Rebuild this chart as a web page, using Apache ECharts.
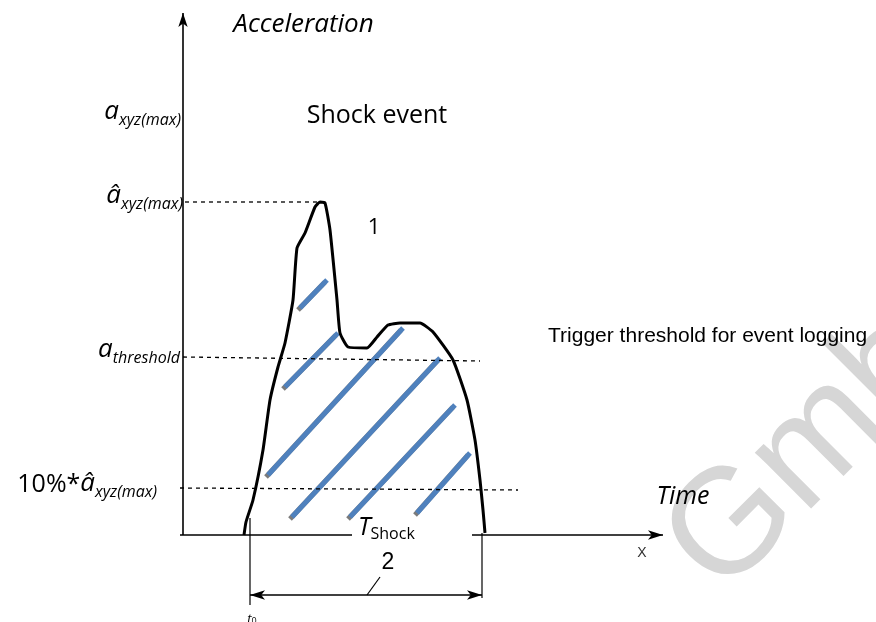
<!DOCTYPE html>
<html>
<head>
<meta charset="utf-8">
<script src="https://cdn.jsdelivr.net/npm/echarts@6/dist/echarts.min.js"></script>
<style>html,body{margin:0;padding:0;background:#fff;}#c{width:876px;height:622px;}</style>
</head>
<body>
<div id="c"></div>
<script>
// ---- data (time units, acceleration units) ----
const curveTime  = [6.1, 6.3, 7.0, 8.0, 8.7, 9.5, 10.2, 11.0, 11.4, 12.2, 13.2, 13.7, 14.2, 14.7, 15.4, 15.7, 16.5, 18.4, 19.4, 20.5, 21.7, 23.7, 25.0, 27.0, 28.4, 29.2, 29.7, 30.0, 30.2];
const curveAccel = [0.0, 1.3, 3.5, 8.5, 13.5, 16.8, 19.2, 23.5, 28.7, 30.2, 32.8, 33.3, 33.2, 30.5, 23.5, 20.2, 18.8, 18.7, 19.8, 21.0, 21.2, 21.2, 20.3, 17.5, 13.5, 9.5, 5.5, 2.5, 0.2];

const peakLine      = [[0.2, 33.3], [13.7, 33.3]];
const thresholdLine = [[0.0, 17.8], [29.7, 17.4]];
const tenPctLine    = [[-0.3, 4.7], [33.5, 4.5]];

const hatchStart = [[11.7, 22.7], [10.2, 14.8], [8.5, 6.0], [10.9, 1.8], [16.7, 1.8], [23.4, 2.2]];
const hatchEnd   = [[14.4, 25.5], [15.5, 20.2], [22.0, 20.7], [25.7, 17.7], [27.2, 13.0], [28.7, 8.2]];

const yAxisLine   = [[0, 0], [0, 52.2]];
const xAxisLeft   = [[-0.3, 0], [16.9, 0]];
const xAxisRight  = [[28.9, 0], [48.0, 0]];
const t0Line      = [[6.7, 1.7], [6.7, -7.0]];
const tEndLine    = [[29.9, 0.2], [29.9, -6.3]];
const durationArrow = [[6.7, -6.0], [29.9, -6.0]];
const leader2     = [[18.4, -6.0], [19.7, -4.2]];

const labelTexts = ['Acceleration', 'Shock event', '1', 'Trigger threshold for event logging', 'Time', 'X', '2'];

// ---- chart ----
const chart = echarts.init(document.getElementById('c'), null, {renderer: 'canvas'});
const black = '#000';
const italicFont = "'Open Sans', 'DejaVu Sans', sans-serif";
const arialFont = "'Liberation Sans', Arial, sans-serif";

function seg(name, pts, style) {
  return {type: 'line', name: name, data: pts, symbol: 'none', silent: true, animation: false,
          lineStyle: Object.assign({color: black, width: 1.5}, style), z: 3};
}
function arrowLine(name, pts, symbols, width, size) {
  return {type: 'line', name: name, data: [], symbol: 'none', silent: true, animation: false,
    markLine: {silent: true, animation: false, symbol: symbols, symbolSize: size,
      label: {show: false}, lineStyle: {type: 'solid', color: black, width: width},
      data: [[{coord: pts[0]}, {coord: pts[1]}]]}};
}
function textPoint(pos, position, text, rich, extra) {
  return {value: pos, symbolSize: 0.1, itemStyle: {color: 'rgba(0,0,0,0)', opacity: 1},
    label: Object.assign({show: true, position: position, distance: 0, formatter: text, rich: rich, color: black, opacity: 1}, extra || {})};
}

const subRich = {
  a: {fontFamily: italicFont, fontStyle: 'italic', fontSize: 26, color: black, verticalAlign: 'bottom', lineHeight: 34, padding: [0, 0, 3, 0]},
  s: {fontFamily: italicFont, fontStyle: 'italic', fontSize: 16, color: black, verticalAlign: 'bottom', lineHeight: 34},
  n: {fontFamily: italicFont, fontSize: 25, color: black, verticalAlign: 'bottom', lineHeight: 34, padding: [0, 0, 3, 0]},
  ns: {fontFamily: italicFont, fontSize: 16, color: black, verticalAlign: 'bottom', lineHeight: 34},
  T: {fontFamily: italicFont, fontStyle: 'italic', fontSize: 25, color: black, verticalAlign: 'bottom', lineHeight: 34, padding: [0, 0, 2, 0]}
};

const labelData = [
  textPoint([12.05, 51.0], 'inside', labelTexts[0], null, {fontFamily: italicFont, fontStyle: 'italic', fontSize: 26}),
  textPoint([19.4, 41.9], 'inside', labelTexts[1], null, {fontFamily: italicFont, fontSize: 25}),
  textPoint([19.1, 30.7], 'inside', labelTexts[2], null, {fontFamily: italicFont, fontSize: 22}),
  textPoint([36.5, 19.9], 'right', labelTexts[3], null, {fontFamily: arialFont, fontSize: 21}),
  textPoint([50.0, 3.8], 'inside', labelTexts[4], null, {fontFamily: italicFont, fontStyle: 'italic', fontSize: 25}),
  textPoint([45.9, -1.8], 'inside', labelTexts[5], null, {fontFamily: arialFont, fontSize: 14, color: '#333'}),
  textPoint([20.5, -2.8], 'inside', labelTexts[6], null, {fontFamily: "'Liberation Sans Narrow', 'Liberation Sans', sans-serif", fontSize: 23}),
  textPoint([-0.2, 42.4], 'left', '{a|a}{s|xyz(max)}', subRich),
  textPoint([0.0, 34.0], 'left', '{a|â}{s|xyz(max)}', subRich),
  textPoint([-0.3, 18.6], 'left', '{a|a}{s|threshold}', subRich),
  textPoint([-2.6, 5.2], 'left', '{n|10%*}{a|â}{s|xyz(max)}', subRich),
  textPoint([17.5, 1.0], 'right', '{T|T}{ns|Shock}', subRich),
  textPoint([6.9, -8.3], 'inside', '{t|t}{z|0}', {t: {fontFamily: italicFont, fontStyle: 'italic', fontSize: 13, color: black, verticalAlign: 'bottom', lineHeight: 16}, z: {fontFamily: italicFont, fontSize: 9, color: black, verticalAlign: 'bottom', lineHeight: 16}})
];

const series = [];
// hatch lines
hatchStart.forEach((s, i) => {
  series.push({type: 'line', name: 'hatch' + i, data: [s, hatchEnd[i]], symbol: 'none', silent: true, animation: false, z: 2,
    lineStyle: {color: '#4f81bd', width: 5, cap: 'butt', shadowColor: 'rgba(90,90,90,0.8)', shadowOffsetX: -2, shadowOffsetY: 2, shadowBlur: 0}});
});
// dashed reference levels
series.push(seg('peak', peakLine, {type: [4, 4], width: 1.3}));
series.push(seg('threshold', thresholdLine, {type: [4, 4], width: 1.3}));
series.push(seg('tenpct', tenPctLine, {type: [4, 4], width: 1.3}));
// shock curve
series.push({type: 'line', name: 'shock', data: curveTime.map((t, i) => [t, curveAccel[i]]), symbol: 'none', smooth: 0.15,
  silent: true, animation: false, z: 4, lineStyle: {color: black, width: 3, join: 'round'}});
// axes
series.push(arrowLine('yaxis', yAxisLine, ['none', 'arrow'], 1.6, [7, 14]));
series.push(seg('xaxisL', xAxisLeft, {width: 1.6}));
series.push(arrowLine('xaxisR', xAxisRight, ['none', 'arrow'], 1.6, [7, 15]));
series.push(seg('t0', t0Line, {width: 1.2}));
series.push(seg('tend', tEndLine, {width: 1.2}));
series.push(arrowLine('duration', durationArrow, ['arrow', 'arrow'], 1.6, [7, 15]));
series.push(seg('leader2', leader2, {width: 1.2}));
// labels
series.push({type: 'scatter', name: 'labels', data: labelData, silent: true, animation: false, z: 10,
  itemStyle: {opacity: 1}, emphasis: {disabled: true}});

chart.setOption({
  backgroundColor: '#fff',
  animation: false,
  grid: {left: 0, right: 0, top: 0, bottom: 0},
  xAxis: {type: 'value', min: -18.3, max: 69.3, show: false},
  yAxis: {type: 'value', min: -8.7, max: 53.5, show: false},
  graphic: [{
    type: 'text', x: 745, y: 622, rotation: Math.PI / 4, z: -10, silent: true,
    style: {text: 'GmbH', fill: '#d6d6d6', font: "150px 'Liberation Sans', sans-serif", textAlign: 'left', textVerticalAlign: 'bottom'}
  }],
  series: series
});
</script>
</body>
</html>
